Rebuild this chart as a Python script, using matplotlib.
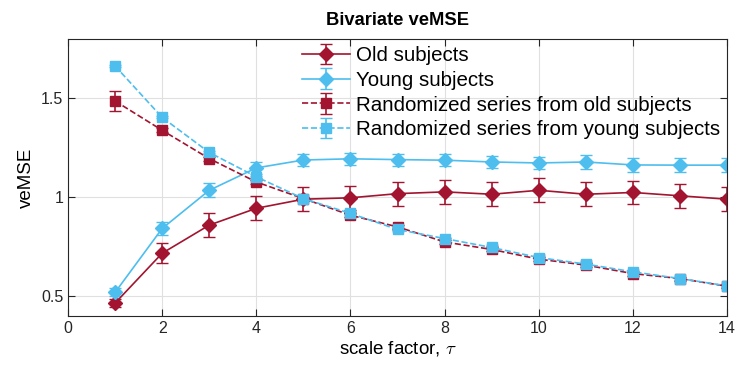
import numpy as np
from matplotlib import pyplot as plt

plt.rcParams['font.family'] = ['Liberation Sans', 'DejaVu Sans']
plt.rcParams['mathtext.fontset'] = 'cm'

scale = np.arange(1, 15)

old_mean = [0.465, 0.717, 0.859, 0.944, 0.99, 0.997, 1.018, 1.027, 1.015, 1.035, 1.015, 1.024, 1.007, 0.99]
old_err = [0.02, 0.05, 0.06, 0.06, 0.06, 0.06, 0.06, 0.06, 0.06, 0.06, 0.06, 0.06, 0.06, 0.06]

young_mean = [0.519, 0.842, 1.035, 1.148, 1.188, 1.194, 1.19, 1.187, 1.178, 1.173, 1.178, 1.163, 1.162, 1.162]
young_err = [0.02, 0.035, 0.035, 0.03, 0.03, 0.03, 0.03, 0.03, 0.03, 0.03, 0.035, 0.035, 0.035, 0.035]

rand_old_mean = [1.486, 1.338, 1.195, 1.077, 0.993, 0.909, 0.85, 0.774, 0.736, 0.687, 0.657, 0.614, 0.589, 0.55]
rand_old_err = [0.05, 0.01, 0.01, 0.01, 0.01, 0.01, 0.01, 0.01, 0.01, 0.01, 0.01, 0.01, 0.01, 0.01]

rand_young_mean = [1.663, 1.403, 1.226, 1.103, 0.993, 0.918, 0.837, 0.791, 0.746, 0.695, 0.662, 0.623, 0.589, 0.552]
rand_young_err = [0.005, 0.005, 0.005, 0.005, 0.005, 0.005, 0.005, 0.005, 0.005, 0.005, 0.005, 0.005, 0.005, 0.005]

red = '#A2142F'
blue = '#4DBEEE'

fig = plt.figure(figsize=(7.39, 3.70), dpi=100)
ax = fig.add_axes([0.092, 0.146, 0.892, 0.749])

ax.errorbar(scale, old_mean, yerr=old_err, color=red, marker='D', markersize=7,
            capsize=4, linewidth=1.2, label='Old subjects')
ax.errorbar(scale, young_mean, yerr=young_err, color=blue, marker='D', markersize=7,
            capsize=4, linewidth=1.2, label='Young subjects')
ax.errorbar(scale, rand_old_mean, yerr=rand_old_err, color=red, marker='s', markersize=6.5,
            capsize=4, linewidth=1.2, linestyle='--', label='Randomized series from old subjects')
ax.errorbar(scale, rand_young_mean, yerr=rand_young_err, color=blue, marker='s', markersize=6.5,
            capsize=4, linewidth=1.2, linestyle='--', label='Randomized series from young subjects')

ax.set_xlim(0, 14)
ax.set_ylim(0.4, 1.8)
ax.set_xticks(np.arange(0, 15, 2))
ax.set_yticks([0.5, 1, 1.5])
ax.set_yticklabels(['0.5', '1', '1.5'])
ax.grid(True, color='#e0e0e0', linewidth=0.8)
ax.set_axisbelow(True)
ax.tick_params(direction='in', top=True, right=True, labelsize=11.5, colors='#262626', length=5)
for s in ax.spines.values():
    s.set_color('#262626')

ax.set_title('Bivariate veMSE', fontsize=13.2, fontweight='bold', pad=10)
ax.set_xlabel(r'scale factor, $\tau$', fontsize=13.5, labelpad=2)
ax.set_ylabel('veMSE', fontsize=13.5)

ax.legend(loc='upper right', frameon=False, fontsize=14.8, handlelength=2.3,
          borderaxespad=0.1, labelspacing=0.28, handletextpad=0.3, borderpad=0.25)

plt.savefig('out.png')
